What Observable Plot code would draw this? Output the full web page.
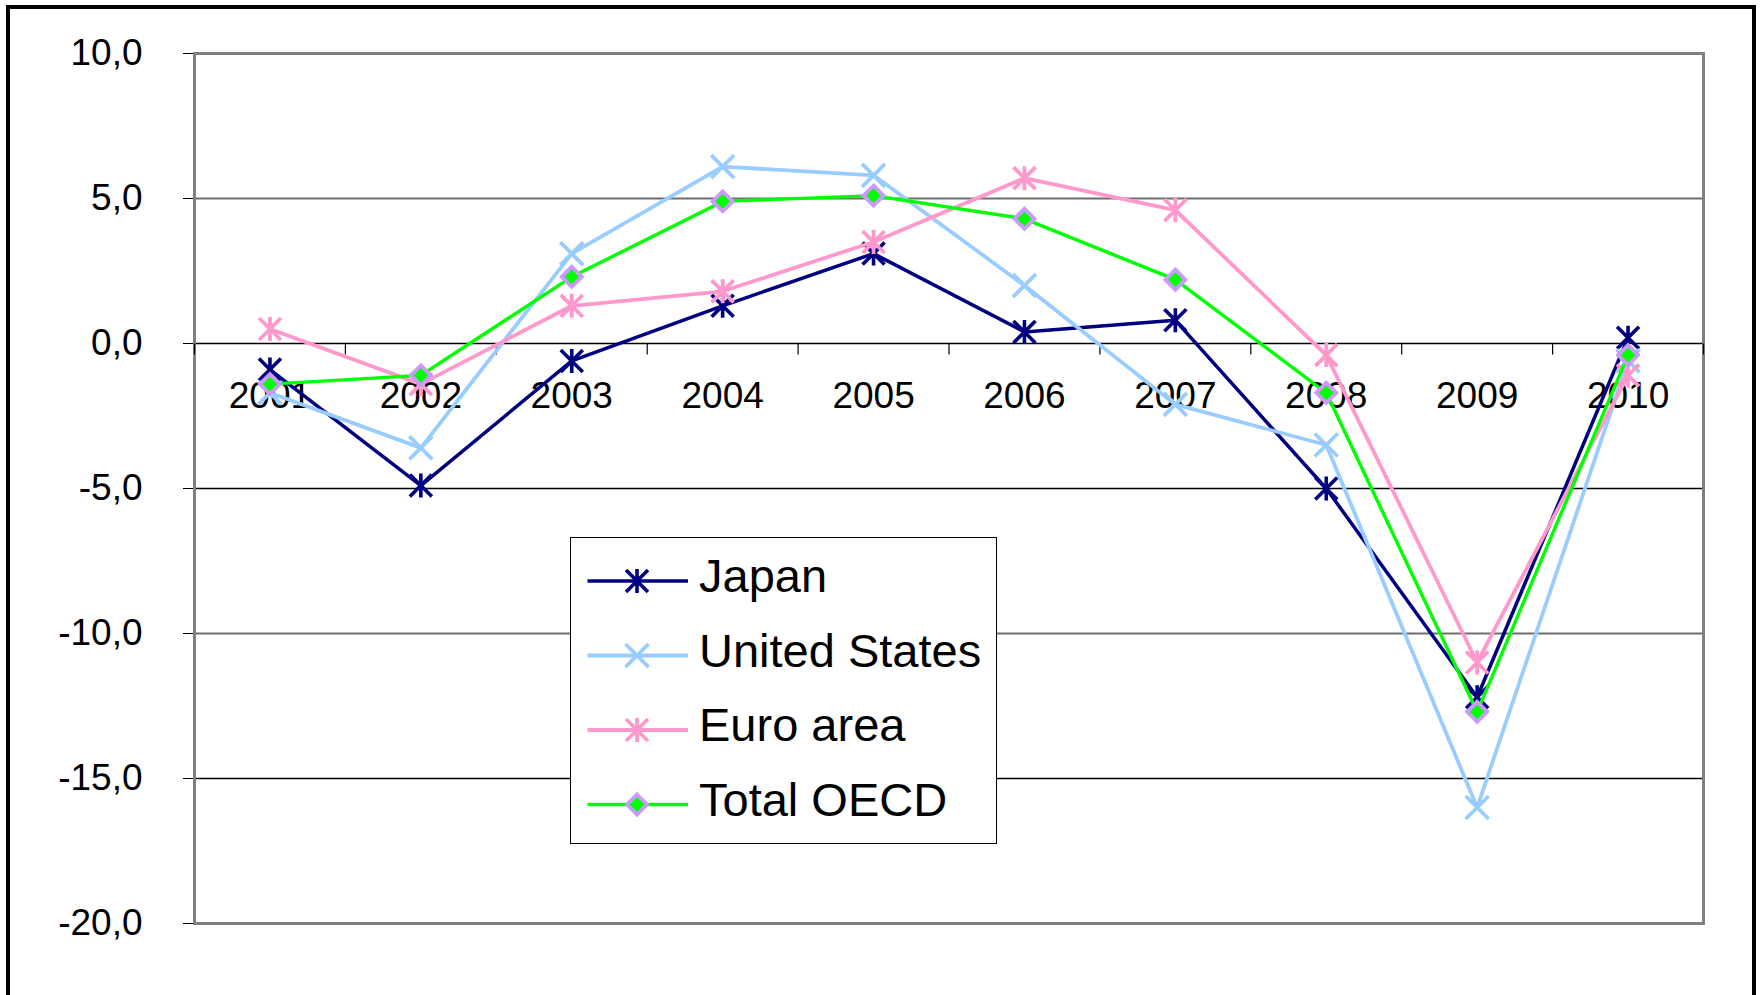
<!DOCTYPE html>
<html>
<head>
<meta charset="utf-8">
<script src="https://cdn.jsdelivr.net/npm/d3@7"></script>
<script src="https://cdn.jsdelivr.net/npm/@observablehq/plot@0.6"></script>
<style>
  html, body { margin: 0; padding: 0; background: #fff; overflow: hidden; }
  #wrap { position: relative; width: 1762px; height: 995px; font-family: "Liberation Sans", Arial, sans-serif; }
  #chart { position: absolute; left: 0; top: 0; }
  #border { position: absolute; left: 6px; top: 5px; width: 1742px; height: 1100px; border: 4px solid #000; }
  #legend { position: absolute; left: 570px; top: 537px; width: 425px; height: 305px; border: 1.5px solid #000; background: #fff; }
  #legend svg { display: block; }
</style>
</head>
<body>
<div id="wrap">
  <div id="chart"></div>
  <div id="border"></div>
  <div id="legend"></div>
</div>
<script>
// Annual growth, %, 2001–2010
const years = [2001, 2002, 2003, 2004, 2005, 2006, 2007, 2008, 2009, 2010];
const japan        = [-0.9, -4.9, -0.6, 1.3, 3.1, 0.4, 0.8, -5.0, -12.2, 0.2];
const unitedStates = [-1.7, -3.6,  3.1, 6.1, 5.8, 2.0, -2.1, -3.5, -16.0, -0.6];
const euroArea     = [ 0.5, -1.4,  1.3, 1.8, 3.5, 5.7, 4.6, -0.4, -11.0, -1.1];
const totalOECD    = [-1.4, -1.1,  2.3, 4.9, 5.1, 4.3, 2.2, -1.7, -12.7, -0.4];

const seriesNames = ["Japan", "United States", "Euro area", "Total OECD"];
const seriesValues = [japan, unitedStates, euroArea, totalOECD];
const yTicks = [10, 5, 0, -5, -10, -15, -20];
const gridValues = [5, 0, -5, -10, -15];
const softGrid = [5, -10]; // these two render as heavier grey rules

// Marker shapes
const star = {draw(c) {
  const s = 11;
  c.moveTo(-s, -s); c.lineTo(s, s);
  c.moveTo(-s, s); c.lineTo(s, -s);
  c.moveTo(0, -s - 1); c.lineTo(0, s + 1);
}};
const cross = {draw(c) {
  const s = 11.5;
  c.moveTo(-s, -s); c.lineTo(s, s);
  c.moveTo(-s, s); c.lineTo(s, -s);
}};
const diamond = {draw(c) {
  const s = 10;
  c.moveTo(0, -s); c.lineTo(s, 0); c.lineTo(0, s); c.lineTo(-s, 0); c.closePath();
}};
const tickDown = {draw(c) { c.moveTo(0, 0); c.lineTo(0, 11); }};

const styles = {
  "Japan":         {line: "#000080", width: 3.5, symbol: star,    stroke: "#000080", fill: "none",    mw: 3.6},
  "United States": {line: "#99CCFF", width: 3.8, symbol: cross,   stroke: "#99CCFF", fill: "none",    mw: 3.8},
  "Euro area":     {line: "#FF99CC", width: 3.8, symbol: star,    stroke: "#FF99CC", fill: "none",    mw: 3.8},
  "Total OECD":    {line: "#00FF00", width: 3.4, symbol: diamond, stroke: "#CC99FF", fill: "#00FF00", mw: 3.8}
};

const rows = years.map((year, i) => {
  const r = {year};
  seriesNames.forEach((name, k) => { r[name] = seriesValues[k][i]; });
  return r;
});

// category boundaries for the small ticks on the zero line
const bounds = years.map(y => y - 0.5).concat([years[years.length - 1] + 0.5]);

const seriesMarks = seriesNames.flatMap(name => [
  Plot.line(rows, {x: "year", y: name, stroke: styles[name].line, strokeWidth: styles[name].width}),
  Plot.dot(rows, {x: "year", y: name, symbol: styles[name].symbol,
    stroke: styles[name].stroke, fill: styles[name].fill, strokeWidth: styles[name].mw})
]);

const chart = Plot.plot({
  width: 1762,
  height: 995,
  marginLeft: 194,
  marginRight: 59,
  marginTop: 53,
  marginBottom: 72,
  style: {fontFamily: "'Liberation Sans', Arial, sans-serif", fontSize: "37px", background: "transparent", color: "#000", overflow: "visible"},
  x: {domain: [bounds[0], bounds[bounds.length - 1]], axis: null},
  y: {domain: [-20, 10], ticks: yTicks, tickSize: 11, tickPadding: 41, label: null,
      tickFormat: d => d.toFixed(1).replace(".", ",")},
  marks: [
    Plot.ruleY(gridValues, {
      stroke: d => softGrid.includes(d) ? "#6e6e6e" : "#000",
      strokeWidth: d => softGrid.includes(d) ? 2 : 1.3
    }),
    Plot.frame({stroke: "#808080", strokeWidth: 3}),
    Plot.dot(bounds, {x: d => d, y: () => 0, symbol: tickDown, stroke: "#000", strokeWidth: 1.2}),
    Plot.text(years, {x: d => d, y: () => 0, text: d => String(d), dy: 53, fontSize: 37, fill: "#000"}),
    ...seriesMarks
  ]
});
document.getElementById("chart").appendChild(chart);

// Legend
const legendRowY = [43, 117.5, 192, 266.5];
const lsvg = d3.select("#legend").append("svg")
  .attr("width", 425).attr("height", 305)
  .style("font-family", "'Liberation Sans', Arial, sans-serif");
seriesNames.forEach((name, i) => {
  const st = styles[name];
  const g = lsvg.append("g").attr("transform", `translate(0,${legendRowY[i]})`);
  g.append("line").attr("x1", 16.5).attr("x2", 117).attr("y1", 0).attr("y2", 0)
    .attr("stroke", st.line).attr("stroke-width", st.width);
  const p = d3.path();
  st.symbol.draw(p, 0);
  g.append("path").attr("d", p.toString()).attr("transform", "translate(66,0)")
    .attr("stroke", st.stroke).attr("fill", st.fill)
    .attr("stroke-width", st.mw);
  g.append("text").attr("x", 128).attr("y", 11).attr("font-size", 47).attr("fill", "#000").text(name);
});
</script>
</body>
</html>
